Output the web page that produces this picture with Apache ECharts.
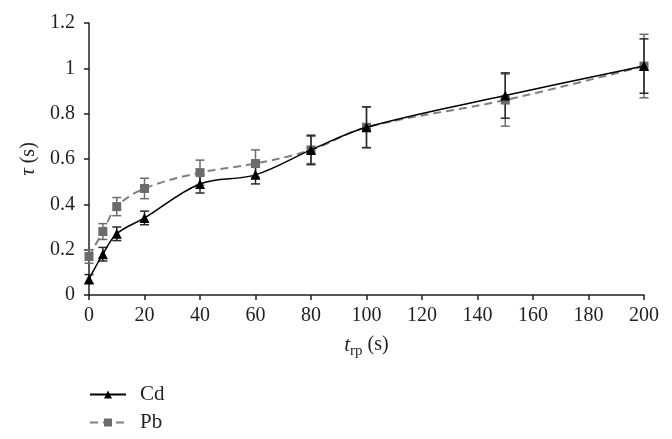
<!DOCTYPE html>
<html>
<head>
<meta charset="utf-8">
<script src="https://cdn.jsdelivr.net/npm/echarts@6/dist/echarts.min.js"></script>
<style>html,body{margin:0;padding:0;background:#fff;}#chart{width:672px;height:439px;}</style>
</head>
<body>
<div id="chart"></div>
<script>
var times = [0, 5, 10, 20, 40, 60, 80, 100, 150, 200];
var cdValues = [0.07, 0.18, 0.27, 0.34, 0.49, 0.53, 0.64, 0.74, 0.88, 1.01];
var cdErrors = [0.02, 0.03, 0.03, 0.03, 0.04, 0.04, 0.065, 0.09, 0.10, 0.12];
var pbValues = [0.17, 0.28, 0.39, 0.47, 0.54, 0.58, 0.64, 0.74, 0.86, 1.01];
var pbErrors = [0.03, 0.035, 0.04, 0.045, 0.055, 0.06, 0.06, 0.09, 0.115, 0.14];
var xTicks = [0, 200, 20];
var yTicks = [0, 1.2, 0.2];

var FONT = 'Liberation Serif';
var chart = echarts.init(document.getElementById('chart'));

function pairs(vals) { return times.map(function (t, i) { return [t, vals[i]]; }); }
function errData(vals, errs) {
  return times.map(function (t, i) { return [t, vals[i] - errs[i], vals[i] + errs[i]]; });
}
function errSeries(vals, errs, color) {
  return {
    type: 'custom',
    data: errData(vals, errs),
    z: 1,
    silent: true,
    renderItem: function (params, api) {
      var lo = api.coord([api.value(0), api.value(1)]);
      var hi = api.coord([api.value(0), api.value(2)]);
      var w = 4.5;
      var st = { stroke: color, lineWidth: 1.5 };
      return {
        type: 'group',
        children: [
          { type: 'line', shape: { x1: lo[0], y1: lo[1], x2: hi[0], y2: hi[1] }, style: st },
          { type: 'line', shape: { x1: lo[0] - w, y1: lo[1], x2: lo[0] + w, y2: lo[1] }, style: st },
          { type: 'line', shape: { x1: hi[0] - w, y1: hi[1], x2: hi[0] + w, y2: hi[1] }, style: st }
        ]
      };
    }
  };
}

var axisLine = { show: true, lineStyle: { color: '#231f20', width: 1.5 } };
var axisTick = { show: true, inside: false, length: 5, lineStyle: { color: '#231f20', width: 1.5 } };
function legendFor(name, top) {
  return {
    data: [name],
    orient: 'vertical',
    left: 89, top: top, padding: 0,
    itemWidth: 36, itemHeight: 10,
    textStyle: { fontFamily: FONT, fontSize: 21, color: '#231f20', padding: [0, 0, 0, 9] }
  };
}

chart.setOption({
  animation: false,
  backgroundColor: '#fff',
  grid: { left: 89, right: 28, top: 23, bottom: 144 },
  xAxis: {
    type: 'value', min: xTicks[0], max: xTicks[1], interval: xTicks[2],
    axisLine: axisLine, axisTick: axisTick, splitLine: { show: false },
    axisLabel: { fontFamily: FONT, fontSize: 20, color: '#231f20', margin: 11 },
    name: '{t|t}{sub|rp}{n| (s)}',
    nameLocation: 'middle', nameGap: 36,
    nameTextStyle: {
      fontFamily: FONT, color: '#231f20',
      rich: {
        t: { fontFamily: FONT, fontStyle: 'italic', fontSize: 21, lineHeight: 28, color: '#231f20' },
        sub: { fontFamily: FONT, fontSize: 15, lineHeight: 14, verticalAlign: 'bottom', color: '#231f20' },
        n: { fontFamily: FONT, fontSize: 20, lineHeight: 28, color: '#231f20' }
      }
    }
  },
  yAxis: {
    type: 'value', min: yTicks[0], max: yTicks[1], interval: yTicks[2],
    axisLine: axisLine, axisTick: axisTick, splitLine: { show: false },
    axisLabel: { fontFamily: FONT, fontSize: 20, color: '#231f20', margin: 14 },
    name: '{t|τ}{n| (s)}',
    nameLocation: 'middle', nameGap: 50,
    nameTextStyle: {
      fontFamily: FONT, color: '#231f20',
      rich: {
        t: { fontFamily: FONT, fontStyle: 'italic', fontSize: 21, color: '#231f20' },
        n: { fontFamily: FONT, fontSize: 20, color: '#231f20' }
      }
    }
  },
  legend: [legendFor('Cd', 384), legendFor('Pb', 412)],
  series: [
    errSeries(pbValues, pbErrors, '#6d6d6d'),
    errSeries(cdValues, cdErrors, '#2a2a2a'),
    {
      name: 'Pb', type: 'line', data: pairs(pbValues), smooth: 0.35, z: 3,
      symbol: 'rect', symbolSize: 9,
      itemStyle: { color: '#6b6b6b' },
      lineStyle: { color: '#808080', width: 2, type: [8, 5] }
    },
    {
      name: 'Cd', type: 'line', data: pairs(cdValues), smooth: 0.35, z: 4,
      symbol: 'triangle', symbolSize: 10,
      itemStyle: { color: '#000' },
      lineStyle: { color: '#000', width: 1.5 }
    }
  ]
});
</script>
</body>
</html>
